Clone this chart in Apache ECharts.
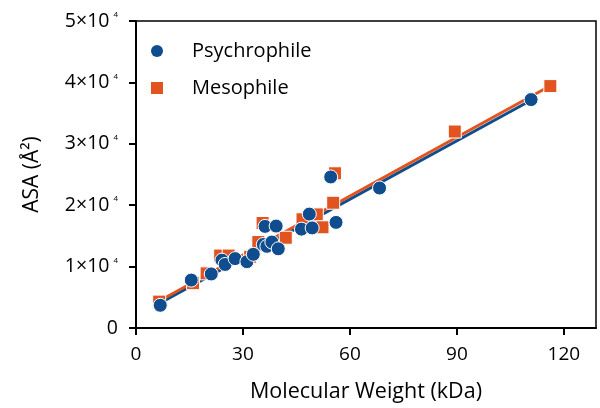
<!DOCTYPE html>
<html>
<head>
<meta charset="utf-8">
<script src="https://cdn.jsdelivr.net/npm/echarts@6/dist/echarts.min.js"></script>
<style>
html,body{margin:0;padding:0;background:#fff;}
#c{width:600px;height:408px;}
</style>
</head>
<body>
<div id="c"></div>
<script>
// ---- data ----
const seriesNames = ['Psychrophile', 'Mesophile'];
const psychrophile = [
  [6.8, 3700], [15.5, 7800], [21.1, 8800], [24.1, 11050], [25.0, 10350],
  [27.8, 11300], [31.1, 10800], [32.9, 12000], [35.7, 13600], [36.7, 13300],
  [38.1, 14000], [39.9, 12900], [36.2, 16550], [39.3, 16600], [46.4, 16100],
  [48.6, 18550], [49.4, 16300], [54.6, 24600], [56.1, 17200], [68.3, 22800],
  [110.8, 37200]
];
const mesophile = [
  [6.5, 4300], [16.0, 7300], [19.8, 8900], [23.6, 11800], [26.0, 11800],
  [32.0, 11600], [34.3, 14000], [35.5, 17100], [42.0, 14700], [46.7, 17700],
  [50.7, 18500], [52.3, 16400], [55.3, 20400], [55.8, 25200], [89.4, 32000],
  [116.2, 39400]
];
// fitted trend lines (endpoints)
const psychrophileFit = [[6.8, 4100], [110.8, 37100]];
const mesophileFit = [[6.5, 4400], [116.2, 39450]];
const xTicks = [0, 30, 60, 90, 120];
const yTicks = [0, 10000, 20000, 30000, 40000, 50000];

const BLUE = '#104d8e';
const ORANGE = '#e2541f';
const FONT = 'Open Sans';
const INK = '#000';

const chart = echarts.init(document.getElementById('c'), null, {renderer: 'canvas'});
chart.setOption({
  animation: false,
  backgroundColor: '#fff',
  textStyle: {fontFamily: FONT},
  grid: {left: 136, right: 4, top: 21, bottom: 76, show: true, borderColor: '#000', borderWidth: 1.5, containLabel: false},
  legend: {
    data: seriesNames,
    orient: 'vertical',
    left: 146, top: 35,
    itemWidth: 12, itemHeight: 12, itemGap: 15,
    textStyle: {fontFamily: FONT, fontSize: 20, color: INK, padding: [0, 0, 0, 24], lineHeight: 22},
    itemStyle: {borderWidth: 0}
  },
  xAxis: {
    type: 'value', min: 0, max: 129, interval: 30,
    name: 'Molecular Weight (kDa)', nameLocation: 'middle', nameGap: 53,
    nameTextStyle: {fontFamily: FONT, fontSize: 21.5, color: INK},
    splitLine: {show: false},
    axisLine: {onZero: false, lineStyle: {color: '#000', width: 2}},
    axisTick: {show: true, length: 7, inside: false, lineStyle: {color: '#000', width: 2}, customValues: xTicks},
    axisLabel: {fontFamily: FONT, fontSize: 19, color: INK, margin: 17, customValues: xTicks}
  },
  yAxis: {
    type: 'value', min: 0, max: 50000, interval: 10000,
    name: 'ASA (Å²)', nameLocation: 'middle', nameGap: 93, nameRotate: 90,
    nameTextStyle: {fontFamily: FONT, fontSize: 21, color: INK},
    splitLine: {show: false},
    axisLine: {onZero: false, lineStyle: {color: '#000', width: 2}},
    axisTick: {show: true, length: 7, inside: false, lineStyle: {color: '#000', width: 2}, customValues: yTicks},
    axisLabel: {
      fontFamily: FONT, fontSize: 19, color: INK, margin: 18,
      customValues: yTicks,
      formatter: v => v === 0 ? '{b|0}' : '{b|' + (v / 10000) + '×10}{s|4}',
      rich: {
        b: {fontFamily: FONT, fontSize: 19.5, color: INK, lineHeight: 20, verticalAlign: 'bottom'},
        s: {fontFamily: FONT, fontSize: 8, color: INK, lineHeight: 8, verticalAlign: 'top', padding: [0, 0, 16, 4]}
      }
    }
  },
  series: [
    {
      name: 'Psychrophile Fit', type: 'line', data: psychrophileFit, symbol: 'none', z: 2,
      lineStyle: {color: BLUE, width: 3}, silent: true
    },
    {
      name: 'Mesophile Fit', type: 'line', data: mesophileFit, symbol: 'none', z: 2,
      lineStyle: {color: ORANGE, width: 3}, silent: true
    },
    {
      name: 'Mesophile', type: 'scatter', data: mesophile, symbol: 'rect', symbolSize: 13, z: 3,
      itemStyle: {color: ORANGE, borderColor: '#fff', borderWidth: 1, opacity: 1}
    },
    {
      name: 'Psychrophile', type: 'scatter', data: psychrophile, symbol: 'circle', symbolSize: 14, z: 4,
      itemStyle: {color: BLUE, borderColor: '#fff', borderWidth: 1, opacity: 1}
    }
  ]
});
</script>
</body>
</html>
